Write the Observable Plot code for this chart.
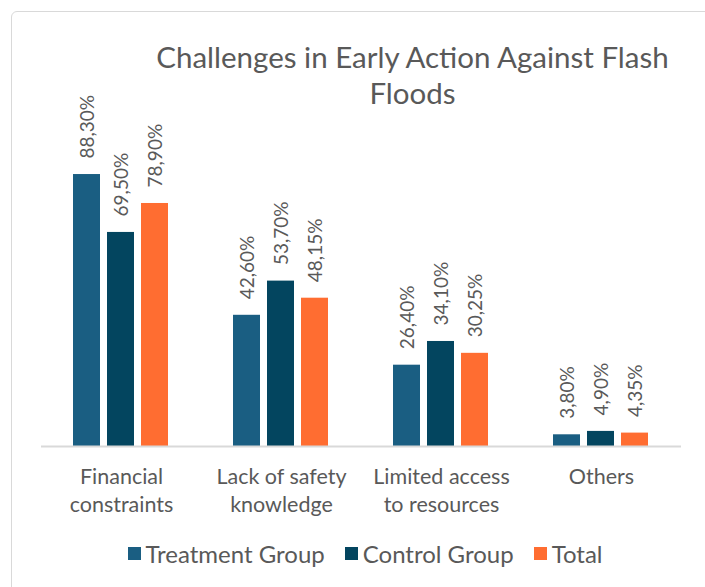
<!DOCTYPE html>
<html>
<head>
<meta charset="utf-8">
<script src="https://cdn.jsdelivr.net/npm/d3@7"></script>
<script src="https://cdn.jsdelivr.net/npm/@observablehq/plot@0.6"></script>
<style>
  html, body { margin: 0; padding: 0; background: #fff; overflow: hidden; }
  #wrap { position: relative; width: 705px; height: 587px; font-family: Lato, "Open Sans", sans-serif; color: #595959; }
  #frame { position: absolute; left: 11px; top: 11px; width: 720px; height: 620px; border: 1.5px solid #d9d9d9; border-radius: 6px; box-sizing: border-box; }
  #title { position: absolute; left: 140px; width: 545px; top: 39px; text-align: center; font-size: 29.5px; line-height: 36px; color: #595959; }
  #legend { position: absolute; top: 539px; left: 0; width: 705px; display: flex; justify-content: center; padding-left: 25px; box-sizing: border-box; font-size: 24px; }
  .item { display: flex; align-items: center; margin: 0 10px; }
  .sw { width: 13px; height: 13px; margin-right: 5px; }
  #chart { position: absolute; left: 0; top: 0; }
</style>
</head>
<body>
<div id="wrap">
  <div id="frame"></div>
  <div id="chart"></div>
  <div id="title">Challenges in Early Action Against Flash<br>Floods</div>
  <div id="legend"></div>
</div>
<script>
const categories = ["Financial\nconstraints", "Lack of safety\nknowledge", "Limited access\nto resources", "Others"];
const seriesNames = ["Treatment Group", "Control Group", "Total"];
const treatment = [88.3, 42.6, 26.4, 3.8];
const control = [69.5, 53.7, 34.1, 4.9];
const total = [78.9, 48.15, 30.25, 4.35];
const colors = ["#1a5e82", "#03455f", "#ff6d31"];

const seriesValues = [treatment, control, total];
const data = [];
categories.forEach((c, i) => {
  seriesNames.forEach((s, j) => {
    data.push({category: c, series: s, value: seriesValues[j][i]});
  });
});
const fmt = v => v.toFixed(2).replace(".", ",") + "%";

const chart = Plot.plot({
  width: 705,
  height: 587,
  marginLeft: 40,
  marginRight: 23,
  marginTop: 138,
  marginBottom: 141,
  style: {fontFamily: "Lato, 'Open Sans', sans-serif", color: "#595959", background: "transparent"},
  fx: {domain: categories, padding: 0, axis: null},
  x: {domain: seriesNames, paddingInner: 0.2, paddingOuter: 0.896, axis: null},
  y: {domain: [0, 100], axis: null},
  color: {domain: seriesNames, range: colors},
  marks: [
    Plot.barY(data, {fx: "category", x: "series", y: "value", fill: "series"}),
    Plot.ruleY([0], {stroke: "#d9d9d9", strokeWidth: 2}),
    Plot.text(data, {
      fx: "category", x: "series", y: "value",
      text: d => fmt(d.value),
      rotate: -90, textAnchor: "start", lineAnchor: "middle",
      dy: -16, dx: 1, fontSize: 19, fill: "#595959"
    }),
    Plot.axisFx({
      anchor: "bottom",
      domain: categories, tickSize: 0, tickPadding: 18, fontSize: 21.5,
      label: null, lineHeight: 1.3, fill: "#595959", textStroke: "none"
    })
  ]
});
document.getElementById("chart").appendChild(chart);

const legend = document.getElementById("legend");
seriesNames.forEach((s, i) => {
  const it = document.createElement("div");
  it.className = "item";
  const sw = document.createElement("div");
  sw.className = "sw";
  sw.style.background = colors[i];
  const t = document.createElement("span");
  t.textContent = s;
  it.appendChild(sw);
  it.appendChild(t);
  legend.appendChild(it);
});
</script>
</body>
</html>
